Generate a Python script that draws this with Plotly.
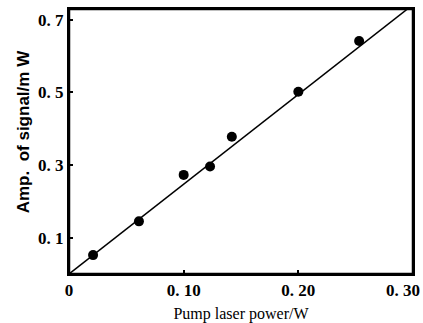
import plotly.graph_objects as go

# Data
pump_power = [0.021, 0.061, 0.100, 0.123, 0.142, 0.200, 0.253]
signal_amp = [0.052, 0.145, 0.273, 0.296, 0.378, 0.502, 0.642]
fit_x = [0.0, 0.30]
fit_y = [0.0, 0.742]

x_tickvals = [0, 0.10, 0.20, 0.30]
x_ticktext = ["0", "0. 10", "0. 20", "0. 30"]
y_tickvals = [0.1, 0.3, 0.5, 0.7]
y_ticktext = ["0. 1", "0. 3", "0. 5", "0. 7"]

fig = go.Figure()
fig.add_trace(go.Scatter(x=fit_x, y=fit_y, mode="lines",
                         line=dict(color="black", width=1.5),
                         showlegend=False))
fig.add_trace(go.Scatter(x=pump_power, y=signal_amp, mode="markers",
                         marker=dict(color="black", size=10),
                         showlegend=False))

tick_font = dict(family="Liberation Serif", size=17, color="black", weight="bold")
fig.update_layout(
    width=423, height=323,
    margin=dict(l=69, r=10, t=9, b=49),
    paper_bgcolor="white", plot_bgcolor="white",
    xaxis=dict(range=[0, 0.30], tickvals=x_tickvals,
               ticktext=x_ticktext[:-1] + [""],
               ticks="inside", ticklen=4, tickwidth=1.5, tickcolor="black",
               showline=True, linecolor="black", linewidth=2, mirror=True,
               showgrid=False, zeroline=False, ticklabeloverflow="allow",
               automargin=False, tickfont=tick_font,
               title=dict(text="Pump laser power/W", standoff=10,
                          font=dict(family="Liberation Serif", size=16, color="black"))),
    yaxis=dict(range=[0, 0.73], tickvals=y_tickvals, ticktext=y_ticktext,
               ticks="inside", ticklen=4, tickwidth=1.5, tickcolor="black",
               showline=True, linecolor="black", linewidth=2, mirror=True,
               showgrid=False, zeroline=False, ticklabeloverflow="allow",
               automargin=False, tickfont=tick_font,
               title=dict(text="<b>\u00a0\u00a0\u00a0\u00a0Amp.  of signal/m W</b>", standoff=4,
                          font=dict(family="Liberation Sans", size=17, color="black"))),
    shapes=[dict(type="rect", xref="paper", yref="paper", x0=0, x1=1, y0=0, y1=1,
                 line=dict(color="black", width=2.5), layer="above")],
    annotations=[dict(x=x_tickvals[-1], xref="x", y=0, yref="paper",
                      text=x_ticktext[-1], showarrow=False,
                      xanchor="right", yanchor="middle", xshift=9, yshift=-16,
                      font=tick_font)],
)
fig.write_html("out.html", config={"displayModeBar": False},
               post_script="document.body.style.margin='0';")
